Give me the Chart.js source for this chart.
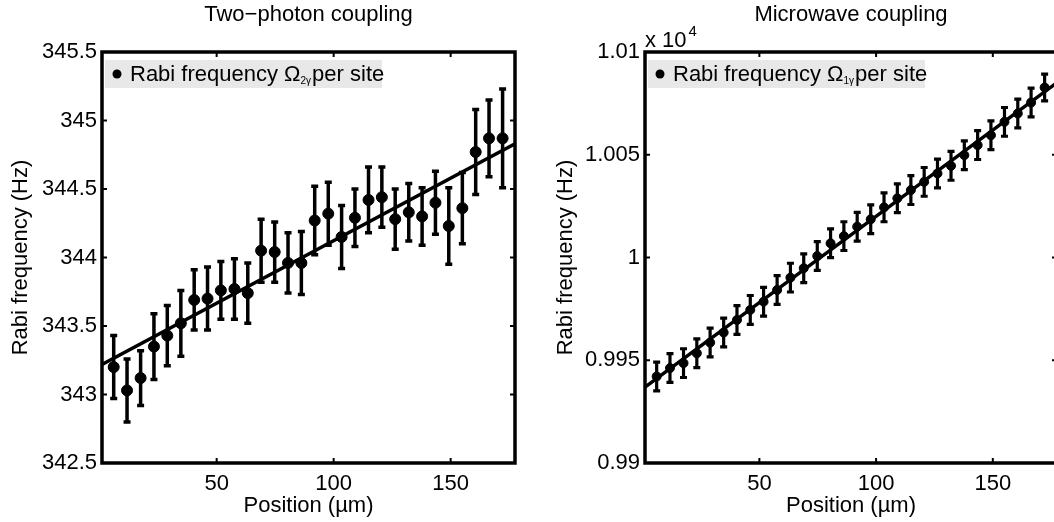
<!DOCTYPE html>
<html>
<head>
<meta charset="utf-8">
<script src="https://cdn.jsdelivr.net/npm/chart.js@4.4.0/dist/chart.umd.min.js"></script>
<style>
  html, body { margin: 0; padding: 0; background: #fff; overflow: hidden; }
  body { width: 1054px; height: 522px; position: relative; }
  .panel { position: absolute; top: 0; width: 530px; height: 522px; }
  #leftPanel { left: 0; }
  #rightPanel { left: 545px; }
</style>
</head>
<body>
<div class="panel" id="leftPanel"><canvas id="twoPhotonChart"></canvas></div>
<div class="panel" id="rightPanel"><canvas id="microwaveChart"></canvas></div>
<script>
// site positions (um), same for both panels
const positions = [6.0, 11.7, 17.5, 23.2, 28.9, 34.7, 40.4, 46.1, 51.8, 57.6,
    63.3, 69.0, 74.8, 80.5, 86.2, 91.9, 97.7, 103.4, 109.1, 114.9,
    120.6, 126.3, 132.1, 137.8, 143.5, 149.2, 155.0, 160.7, 166.4, 172.2];

// two-photon coupling (Hz)
const twoPhotonRabi = [343.20, 343.03, 343.12, 343.35, 343.43, 343.52, 343.69, 343.70, 343.76, 343.77,
    343.74, 344.05, 344.04, 343.96, 343.96, 344.27, 344.32, 344.15, 344.29, 344.42,
    344.44, 344.28, 344.33, 344.30, 344.40, 344.23, 344.36, 344.77, 344.87, 344.87];
const twoPhotonErr = [0.23, 0.23, 0.20, 0.24, 0.22, 0.24, 0.22, 0.23, 0.21, 0.22,
    0.22, 0.23, 0.22, 0.22, 0.23, 0.25, 0.23, 0.23, 0.21, 0.24,
    0.22, 0.22, 0.21, 0.21, 0.23, 0.28, 0.26, 0.31, 0.28, 0.36];
const twoPhotonFitX = [1, 177.5];
const twoPhotonFitY = [343.22, 344.83];

// microwave coupling (x 10^4 Hz)
const microwaveRabi = [0.99421, 0.99462, 0.99486, 0.99534, 0.99586, 0.99635, 0.99696, 0.99745, 0.99785, 0.99842,
    0.99902, 0.99948, 1.00007, 1.00069, 1.00104, 1.00150, 1.00186, 1.00244, 1.00288, 1.00328,
    1.00368, 1.00409, 1.00446, 1.00498, 1.00547, 1.00595, 1.00660, 1.00701, 1.00754, 1.00827];
const microwaveErr = [0.0007, 0.0007, 0.0007, 0.0007, 0.0007, 0.0007, 0.0007, 0.0007, 0.0007, 0.0007,
    0.0007, 0.0007, 0.0007, 0.0007, 0.0007, 0.0007, 0.0007, 0.0007, 0.0007, 0.0007,
    0.0007, 0.0007, 0.0007, 0.0007, 0.0007, 0.0007, 0.0007, 0.0007, 0.0007, 0.00065];
const microwaveFitX = [1, 177.5];
const microwaveFitY = [0.99369, 1.00851];

// ticks
const xTicks = [50, 100, 150];
const twoPhotonYTicks = [342.5, 343, 343.5, 344, 344.5, 345, 345.5];
const twoPhotonYLabels = ["342.5", "343", "343.5", "344", "344.5", "345", "345.5"];
const microwaveYTicks = [0.99, 0.995, 1, 1.005, 1.01];
const microwaveYLabels = ["0.99", "0.995", "1", "1.005", "1.01"];

const FONT = "'Liberation Sans', Arial, sans-serif";
Chart.defaults.font.family = FONT;
Chart.defaults.color = "#000";

const errorBars = {
    id: "errorBars",
    afterDatasetsDraw(chart, args, opts) {
        const { ctx, scales: { x, y } } = chart;
        const data = chart.data.datasets[0].data;
        ctx.save();
        ctx.strokeStyle = "#000";
        ctx.lineWidth = opts.width;
        data.forEach((p, i) => {
            const px = x.getPixelForValue(p.x);
            const top = y.getPixelForValue(p.y + opts.values[i]);
            const bot = y.getPixelForValue(p.y - opts.values[i]);
            ctx.beginPath();
            ctx.moveTo(px, top); ctx.lineTo(px, bot);
            ctx.moveTo(px - opts.cap, top); ctx.lineTo(px + opts.cap, top);
            ctx.moveTo(px - opts.cap, bot); ctx.lineTo(px + opts.cap, bot);
            ctx.stroke();
        });
        ctx.restore();
    }
};

const frame = {
    id: "frame",
    afterDraw(chart, args, opts) {
        const { ctx, chartArea: a, scales: { x, y } } = chart;
        ctx.save();
        ctx.strokeStyle = "#000";
        // inner tick marks on all four sides
        ctx.lineWidth = 2;
        ctx.beginPath();
        x.ticks.forEach(t => {
            const px = x.getPixelForValue(t.value);
            ctx.moveTo(px, a.bottom); ctx.lineTo(px, a.bottom - 5);
            ctx.moveTo(px, a.top); ctx.lineTo(px, a.top + 5);
        });
        y.ticks.forEach(t => {
            const py = y.getPixelForValue(t.value);
            ctx.moveTo(a.left, py); ctx.lineTo(a.left + 5, py);
            ctx.moveTo(a.right, py); ctx.lineTo(a.right - 5, py);
        });
        ctx.stroke();
        ctx.lineWidth = 3.5;
        ctx.strokeRect(a.left, a.top, a.right - a.left, a.bottom - a.top);

        // title
        ctx.fillStyle = "#000";
        ctx.font = "22px " + FONT;
        ctx.textAlign = "center";
        ctx.textBaseline = "middle";
        ctx.fillText(opts.title, (a.left + a.right) / 2, 15);

        // legend box
        const lx = a.left + 3, ly = 60;
        ctx.fillStyle = "#e8e8e8";
        ctx.fillRect(lx, ly, 277, 28);
        ctx.fillStyle = "#000";
        ctx.beginPath();
        ctx.arc(lx + 12, ly + 14, 4.5, 0, Math.PI * 2);
        ctx.fill();
        ctx.textAlign = "left";
        ctx.textBaseline = "alphabetic";
        ctx.font = "22px " + FONT;
        let tx = lx + 25;
        const main = "Rabi frequency \u03A9";
        ctx.fillText(main, tx, ly + 21);
        tx += ctx.measureText(main).width;
        ctx.font = "10px " + FONT;
        ctx.fillText(opts.sub, tx, ly + 24);
        tx += ctx.measureText(opts.sub).width + 1;
        ctx.font = "22px " + FONT;
        ctx.fillText("per site", tx, ly + 21);

        // exponent label
        if (opts.exponent) {
            ctx.font = "22px " + FONT;
            ctx.fillText("x 10", a.left, 47);
            const w = ctx.measureText("x 10").width;
            ctx.font = "15px " + FONT;
            ctx.fillText(opts.exponent, a.left + w + 2, 36);
        }
        ctx.restore();
    }
};

function makePanel(canvasId, values, errs, fitX, fitY, yTicks, yLabels, yWidth, padRight, pointRadius, barWidth, opts) {
    const font = { size: 22, family: FONT };
    return new Chart(document.getElementById(canvasId), {
        type: "scatter",
        data: {
            datasets: [
                {
                    data: positions.map((p, i) => ({ x: p, y: values[i] })),
                    backgroundColor: "#000",
                    borderColor: "#000",
                    pointRadius: pointRadius,
                    pointHoverRadius: pointRadius,
                },
                {
                    type: "line",
                    data: fitX.map((p, i) => ({ x: p, y: fitY[i] })),
                    borderColor: "#000",
                    borderWidth: 3.5,
                    pointRadius: 0,
                    fill: false,
                },
            ],
        },
        options: {
            responsive: true,
            maintainAspectRatio: false,
            animation: false,
            events: [],
            layout: { padding: { left: 0, right: padRight, top: 52, bottom: 0 } },
            plugins: {
                legend: { display: false },
                tooltip: { enabled: false },
                errorBars: { values: errs, cap: 3.5, width: barWidth },
                frame: opts,
            },
            scales: {
                x: {
                    type: "linear",
                    min: 1,
                    max: 177.5,
                    afterBuildTicks: s => { s.ticks = xTicks.map(v => ({ value: v })); },
                    afterFit: s => { s.height = 59; },
                    grid: { display: false, drawTicks: false },
                    border: { display: false },
                    ticks: { font, padding: 8, maxRotation: 0, autoSkip: false, callback: v => String(v) },
                    title: { display: true, text: "Position (\u00B5m)", font, padding: { top: 0, bottom: 3 } },
                },
                y: {
                    min: yTicks[0],
                    max: yTicks[yTicks.length - 1],
                    afterBuildTicks: s => { s.ticks = yTicks.map(v => ({ value: v })); },
                    afterFit: s => { s.width = yWidth; },
                    grid: { display: false, drawTicks: false },
                    border: { display: false },
                    ticks: { font, padding: 5, autoSkip: false, callback: (v, i) => yLabels[i] },
                    title: { display: true, text: "Rabi frequency (Hz)", font, padding: { top: 8, bottom: 0 } },
                },
            },
        },
        plugins: [errorBars, frame],
    });
}

makePanel("twoPhotonChart", twoPhotonRabi, twoPhotonErr, twoPhotonFitX, twoPhotonFitY,
    twoPhotonYTicks, twoPhotonYLabels, 102, 15, 5.5, 3.5,
    { title: "Two\u2212photon coupling", sub: "2\u03B3" });

makePanel("microwaveChart", microwaveRabi, microwaveErr, microwaveFitX, microwaveFitY,
    microwaveYTicks, microwaveYLabels, 100, 18, 4.5, 3.2,
    { title: "Microwave coupling", sub: "1\u03B3", exponent: "4" });
</script>
</body>
</html>
